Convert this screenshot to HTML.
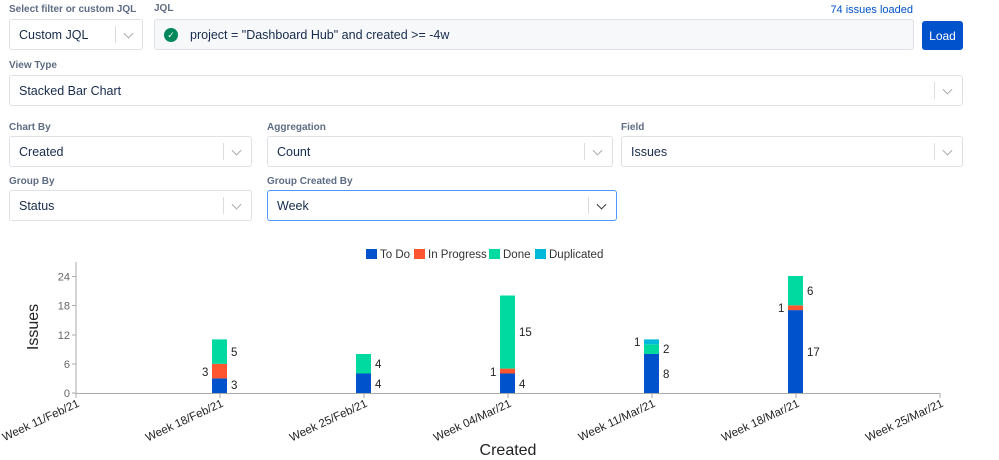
<!DOCTYPE html>
<html><head><style>
body{margin:0;width:999px;height:460px;background:#fff;font-family:"Liberation Sans",Arial,sans-serif;position:relative;overflow:hidden}
.lbl{position:absolute;font-size:10px;font-weight:bold;color:#5e6c84}
.box{position:absolute;box-sizing:border-box;border:1px solid #dfe1e6;border-radius:3px;background:#fff;font-size:12.5px;color:#172b4d;padding-left:9px;display:flex;align-items:center}
.sep{position:absolute;top:6px;bottom:6px;width:1px;background:#ddd}
.chev{position:absolute;top:50%;width:6px;height:6px;border-right:1.3px solid #aaa;border-bottom:1.3px solid #aaa;transform:translateY(-70%) rotate(45deg)}
</style></head><body>
<div class="lbl" style="left:9px;top:4px">Select filter or custom JQL</div>
<div class="box" style="left:9px;top:19px;width:134px;height:31px">Custom JQL<div class="sep" style="left:105px"></div><div class="chev" style="left:115px"></div></div>
<div class="lbl" style="left:154px;top:3px">JQL</div>
<div style="position:absolute;right:86px;top:4px;font-size:11px;color:#0052cc">74 issues loaded</div>
<div class="box" style="left:154px;top:19px;width:760px;height:31px;background:#f7f8fa;padding-left:9px"><span style="display:inline-block;width:14px;height:14px;border-radius:50%;background:#00875a;color:#fff;font-size:9px;text-align:center;line-height:14px;margin-right:12px">✓</span>project = "Dashboard Hub" and created &gt;= -4w</div>
<div style="position:absolute;left:922px;top:21px;width:41px;height:29px;background:#0052cc;border-radius:3px;color:#fff;font-size:12px;display:flex;align-items:center;justify-content:center">Load</div>
<div class="lbl" style="left:9px;top:60px">View Type</div>
<div class="box" style="left:9px;top:75px;width:954px;height:31px">Stacked Bar Chart<div class="sep" style="left:924px"></div><div class="chev" style="left:934px"></div></div>
<div class="lbl" style="left:9px;top:122px">Chart By</div>
<div class="box" style="left:9px;top:136px;width:243px;height:31px">Created<div class="sep" style="left:213px"></div><div class="chev" style="left:223px"></div></div>
<div class="lbl" style="left:267px;top:122px">Aggregation</div>
<div class="box" style="left:267px;top:136px;width:346px;height:31px">Count<div class="sep" style="left:316px"></div><div class="chev" style="left:326px"></div></div>
<div class="lbl" style="left:621px;top:122px">Field</div>
<div class="box" style="left:621px;top:136px;width:342px;height:31px">Issues<div class="sep" style="left:312px"></div><div class="chev" style="left:322px"></div></div>
<div class="lbl" style="left:9px;top:176px">Group By</div>
<div class="box" style="left:9px;top:190px;width:243px;height:31px">Status<div class="sep" style="left:213px"></div><div class="chev" style="left:223px"></div></div>
<div class="lbl" style="left:267px;top:176px">Group Created By</div>
<div class="box" style="left:267px;top:190px;width:350px;height:31px;border-color:#4c9aff">Week<div class="sep" style="left:320px"></div><div class="chev" style="left:330px;border-color:#333"></div></div>

<svg width="999" height="460" style="position:absolute;left:0;top:0" font-family="Liberation Sans,Arial,sans-serif">
<g font-size="11.5" fill="#333">
<rect x="366" y="249" width="11" height="10" fill="#0052cc"/><text x="380" y="258">To Do</text>
<rect x="414" y="249" width="11" height="10" fill="#ff5630"/><text x="428" y="258">In Progress</text>
<rect x="489" y="249" width="11" height="10" fill="#00d9a0"/><text x="503" y="258">Done</text>
<rect x="535" y="249" width="11" height="10" fill="#00b8d9"/><text x="549" y="258">Duplicated</text>
</g>
<g stroke="#aaa" stroke-width="1">
<line x1="76" y1="262" x2="76" y2="394"/>
<line x1="76" y1="393.5" x2="940" y2="393.5"/>
<line x1="72" y1="393" x2="76" y2="393"/><line x1="72" y1="364" x2="76" y2="364"/><line x1="72" y1="335" x2="76" y2="335"/><line x1="72" y1="305.5" x2="76" y2="305.5"/><line x1="72" y1="276.5" x2="76" y2="276.5"/>
<line x1="76" y1="393" x2="76" y2="398"/><line x1="220" y1="393" x2="220" y2="398"/><line x1="364" y1="393" x2="364" y2="398"/><line x1="508" y1="393" x2="508" y2="398"/><line x1="652" y1="393" x2="652" y2="398"/><line x1="796" y1="393" x2="796" y2="398"/><line x1="940" y1="393" x2="940" y2="398"/>
</g>
<g font-size="11" fill="#666" text-anchor="end">
<text x="70" y="397">0</text><text x="70" y="368">6</text><text x="70" y="339">12</text><text x="70" y="309.5">18</text><text x="70" y="280.5">24</text>
</g>
<g font-size="11.5" fill="#222" text-anchor="end">
<text transform="translate(80,406) rotate(-25)">Week 11/Feb/21</text>
<text transform="translate(224,406) rotate(-25)">Week 18/Feb/21</text>
<text transform="translate(368,406) rotate(-25)">Week 25/Feb/21</text>
<text transform="translate(512,406) rotate(-25)">Week 04/Mar/21</text>
<text transform="translate(656,406) rotate(-25)">Week 11/Mar/21</text>
<text transform="translate(800,406) rotate(-25)">Week 18/Mar/21</text>
<text transform="translate(944,406) rotate(-25)">Week 25/Mar/21</text>
</g>
<text x="508" y="455" font-size="16" text-anchor="middle" fill="#222">Created</text>
<text transform="translate(38,327) rotate(-90)" font-size="16" text-anchor="middle" fill="#222">Issues</text>
<g>
<rect x="212" y="378.4" width="15" height="14.6" fill="#0052cc"/>
<rect x="212" y="363.8" width="15" height="14.6" fill="#ff5630"/>
<rect x="212" y="339.4" width="15" height="24.4" fill="#00d9a0"/>
<rect x="356" y="373.5" width="15" height="19.5" fill="#0052cc"/>
<rect x="356" y="354" width="15" height="19.5" fill="#00d9a0"/>
<rect x="500" y="373.5" width="15" height="19.5" fill="#0052cc"/>
<rect x="500" y="368.6" width="15" height="4.9" fill="#ff5630"/>
<rect x="500" y="295.5" width="15" height="73.1" fill="#00d9a0"/>
<rect x="644" y="354" width="15" height="39" fill="#0052cc"/>
<rect x="644" y="344.3" width="15" height="9.7" fill="#00d9a0"/>
<rect x="644" y="339.4" width="15" height="4.9" fill="#00b8d9"/>
<rect x="788" y="310.1" width="15" height="82.9" fill="#0052cc"/>
<rect x="788" y="305.3" width="15" height="4.8" fill="#ff5630"/>
<rect x="788" y="276" width="15" height="29.3" fill="#00d9a0"/>
</g>
<g font-size="11.5" fill="#222">
<text x="231" y="389">3</text><text x="202" y="376">3</text><text x="231" y="356">5</text>
<text x="375" y="388">4</text><text x="375" y="368">4</text>
<text x="519" y="388">4</text><text x="490" y="376">1</text><text x="519" y="336">15</text>
<text x="663" y="378">8</text><text x="663" y="353">2</text><text x="634" y="346">1</text>
<text x="807" y="356">17</text><text x="778" y="312">1</text><text x="807" y="295">6</text>
</g>
</svg>
</body></html>
